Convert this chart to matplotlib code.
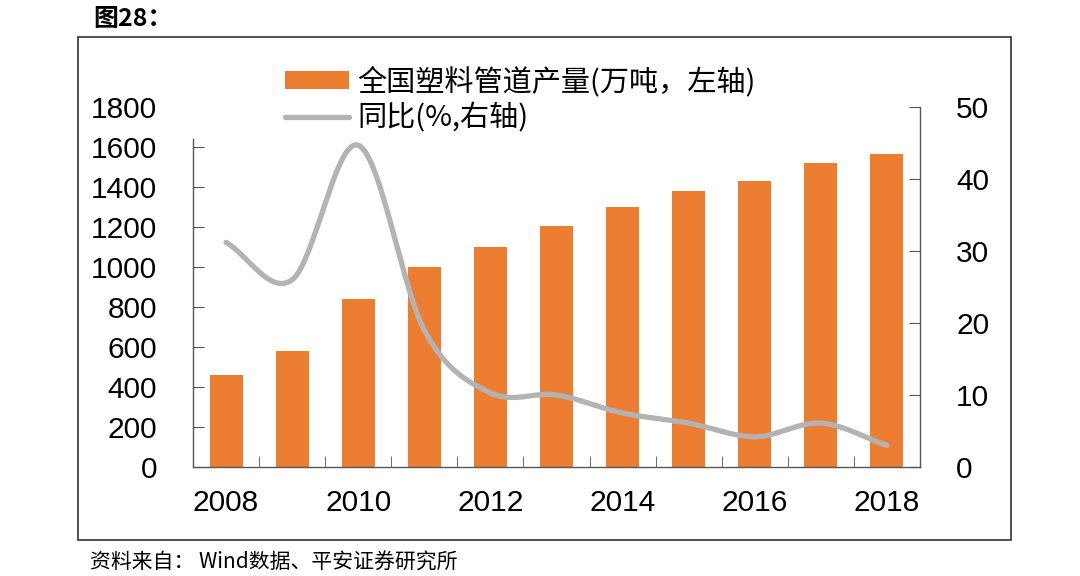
import numpy as np
import matplotlib
matplotlib.use("Agg")
import matplotlib.pyplot as plt
from matplotlib.patches import Rectangle

plt.rcParams["font.family"] = ["Liberation Sans", "Noto Sans CJK SC", "DejaVu Sans"]

years = [2008, 2009, 2010, 2011, 2012, 2013, 2014, 2015, 2016, 2017, 2018]
output = [460, 580, 840, 1000, 1100, 1205, 1300, 1380, 1430, 1520, 1565]
yoy = [31.2, 26.0, 44.7, 19.0, 10.3, 10.0, 7.5, 6.1, 4.2, 6.1, 3.0]
year_labels = ["2008", "", "2010", "", "2012", "", "2014", "", "2016", "", "2018"]

BAR_COLOR = "#ED7D31"
LINE_COLOR = "#B3B3B3"
AXIS_COLOR = "#555555"
CJK = ["Noto Sans CJK SC", "DejaVu Sans"]
TICK_SIZE = 21.5


def smooth(xs, ys, n=30):
    # Catmull-Rom curve through the points, like Excel's smoothed line
    xs = np.asarray(xs, float)
    ys = np.asarray(ys, float)
    px = np.concatenate([[2 * xs[0] - xs[1]], xs, [2 * xs[-1] - xs[-2]]])
    py = np.concatenate([[2 * ys[0] - ys[1]], ys, [2 * ys[-1] - ys[-2]]])
    out_x, out_y = [], []
    t = np.linspace(0, 1, n, endpoint=False)
    for i in range(1, len(px) - 2):
        for arr, res in ((px, out_x), (py, out_y)):
            p0, p1, p2, p3 = arr[i - 1], arr[i], arr[i + 1], arr[i + 2]
            res.extend(0.5 * (2 * p1 + (-p0 + p2) * t
                              + (2 * p0 - 5 * p1 + 4 * p2 - p3) * t ** 2
                              + (-p0 + 3 * p1 - 3 * p2 + p3) * t ** 3))
    out_x.append(xs[-1])
    out_y.append(ys[-1])
    return np.array(out_x), np.array(out_y)


fig = plt.figure(figsize=(10.8, 5.76), dpi=100)
ax = fig.add_axes([193 / 1080, 109 / 576, 727 / 1080, 360 / 576])
x = np.arange(len(years))

bars = ax.bar(x, output, width=0.5, color=BAR_COLOR, zorder=2)
ax.set_xlim(-0.5, len(years) - 0.5)
ax.set_ylim(0, 1800)
ax.set_yticks(range(0, 1601, 200))
# top label has no tick mark in the original
ax.set_yticks([1800], minor=True)
ax.set_yticklabels(["1800"], minor=True)
ax.tick_params(axis="y", which="major", direction="in", length=8, pad=26,
               labelsize=TICK_SIZE, color=AXIS_COLOR)
ax.tick_params(axis="y", which="minor", direction="in", length=0, pad=26,
               labelsize=TICK_SIZE)
ax.set_xticks(x)
ax.set_xticklabels(year_labels)
ax.set_xticks(np.arange(0.5, len(years) - 1, 1.0), minor=True)
ax.tick_params(axis="x", which="major", length=0, pad=16, labelsize=TICK_SIZE)
ax.tick_params(axis="x", which="minor", direction="in", length=8,
               color=AXIS_COLOR)
for side in ("top", "right"):
    ax.spines[side].set_visible(False)
for side in ("left", "bottom"):
    ax.spines[side].set_color(AXIS_COLOR)
    ax.spines[side].set_linewidth(1.0)
ax.spines["left"].set_bounds(0, 1640)

ax2 = ax.twinx()
sx, sy = smooth(x, yoy)
line, = ax2.plot(sx, sy, color=LINE_COLOR, lw=3.8, solid_capstyle="round",
                 zorder=3)
ax2.set_ylim(0, 50)
ax2.set_yticks(range(0, 51, 10))
ax2.tick_params(axis="y", direction="in", length=8, pad=26,
                labelsize=TICK_SIZE, color=AXIS_COLOR)
for side in ("top", "left", "bottom"):
    ax2.spines[side].set_visible(False)
ax2.spines["right"].set_color(AXIS_COLOR)
ax2.spines["right"].set_linewidth(1.0)

leg = fig.legend([bars, line], ["全国塑料管道产量(万吨，左轴)", "同比(%,右轴)"],
                 loc="upper left", bbox_to_anchor=(273 / 1080, 1 - 55 / 576),
                 frameon=False, prop={"family": CJK, "size": 21},
                 handlelength=2.2, handleheight=0.55, handletextpad=0.3,
                 labelspacing=0.2, borderaxespad=0)

# outer frame, title and source note
fig.patches.append(Rectangle((78 / 1080, 36 / 576), 933 / 1080, 503 / 576,
                             transform=fig.transFigure, fill=False,
                             edgecolor="#333333", linewidth=1.2))
fig.text(93 / 1080, 1 - 19 / 576, "图28：", family=CJK, fontsize=18,
         fontweight="bold", va="center", ha="left")
fig.text(90 / 1080, 1 - 563 / 576, "资料来自： Wind数据、平安证券研究所",
         family=CJK, fontsize=15, va="center", ha="left")

fig.savefig("out.png", dpi=100)
